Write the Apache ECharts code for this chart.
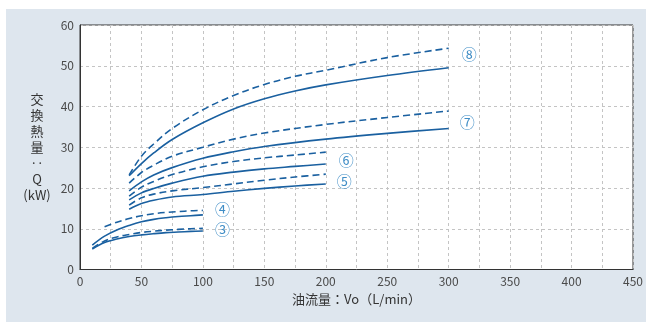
<!DOCTYPE html>
<html><head><meta charset="utf-8">
<script src="https://cdn.jsdelivr.net/npm/echarts@6/dist/echarts.min.js"></script>
<style>html,body{margin:0;padding:0;background:#fff}#c{width:646px;height:322px}</style>
</head><body><div id="c"></div>
<script>
// Oil flow (L/min) and heat exchange (kW)
const v3 = [10,20,30,40,50,60,70,80,90,100];
const q3Solid = [5.0,6.6,7.5,8.1,8.5,8.8,9.05,9.2,9.35,9.45];
const q3Dash  = [5.2,7.0,8.0,8.6,9.1,9.4,9.65,9.85,10.0,10.1];
const v4Solid = [10,20,30,40,50,60,70,80,90,100];
const q4Solid = [6.0,8.2,9.7,10.8,11.7,12.3,12.7,13.0,13.2,13.4];
const v4Dash  = [20,30,40,50,60,70,80,90,100];
const q4Dash  = [10.5,11.6,12.5,13.2,13.7,14.0,14.2,14.4,14.5];
const v56 = [40,50,60,75,100,125,150,175,200];
const q5Solid = [14.8,16.2,17.0,17.8,18.4,19.2,19.9,20.5,21.0];
const q5Dash  = [15.8,17.6,18.5,19.3,20.1,21.0,21.9,22.7,23.4];
const q6Solid = [17.1,18.8,19.9,21.2,22.9,23.9,24.7,25.3,25.9];
const q6Dash  = [18.0,20.2,21.6,23.3,25.2,26.5,27.4,28.1,28.8];
const v7 = [40,50,60,75,100,125,150,200,250,300];
const q7Solid = [19.3,21.5,23.2,25.0,27.3,28.9,30.2,32.0,33.4,34.6];
const q7Dash  = [21.2,23.8,25.6,27.8,30.0,32.0,33.5,35.6,37.3,38.9];
const v8 = [40,50,60,75,100,125,150,175,200,250,300];
const q8Solid = [23.0,26.0,28.6,31.9,36.0,39.4,41.9,43.8,45.3,47.6,49.5];
const q8Dash  = [23.2,27.8,30.8,34.6,39.2,42.7,45.4,47.4,48.9,52.0,54.3];
const xTicks = [0,50,100,150,200,250,300,350,400,450];
const yTicks = [0,10,20,30,40,50,60];
const curveLabels = ['③','④','⑤','⑥','⑦','⑧'];

const LINE = '#1a60a0';
const LABEL = '#3f8dc6';
const FONT = '"Noto Sans CJK JP", "Noto Sans", sans-serif';
const zip = (xs, ys) => xs.map((x, i) => [x, ys[i]]);

const curves = [
  {x: v3, s: q3Solid, xd: v3, d: q3Dash, off: [4, -2]},
  {x: v4Solid, s: q4Solid, xd: v4Dash, d: q4Dash, off: [4, -6]},
  {x: v56, s: q5Solid, xd: v56, d: q5Dash, off: [3, -3]},
  {x: v56, s: q6Solid, xd: v56, d: q6Dash, off: [5, -4]},
  {x: v7, s: q7Solid, xd: v7, d: q7Dash, off: [3, -6]},
  {x: v8, s: q8Solid, xd: v8, d: q8Dash, off: [5, -13]}
];
const series = [];
curves.forEach((c, i) => {
  series.push({
    type: 'line', data: zip(c.x, c.s), smooth: 0.35, showSymbol: false, symbol: 'none',
    lineStyle: {color: LINE, width: 1.6},
    endLabel: {show: true, formatter: curveLabels[i], offset: c.off, color: LABEL, fontSize: 15, fontFamily: FONT}
  });
  series.push({
    type: 'line', data: zip(c.xd, c.d), smooth: 0.35, showSymbol: false, symbol: 'none',
    lineStyle: {color: LINE, width: 1.6, type: [7, 4]}
  });
});

const chart = echarts.init(document.getElementById('c'), null, {renderer: 'canvas'});
chart.setOption({
  animation: false,
  backgroundColor: '#ffffff',
  graphic: [{type: 'rect', z: -10, silent: true, shape: {x: 6, y: 9, width: 640, height: 313}, style: {fill: '#dee6ee'}}],
  grid: {left: 80, right: 11, top: 25, bottom: 52.5, show: true, backgroundColor: '#ffffff', borderColor: '#333', borderWidth: 1, z: 0},
  xAxis: {
    type: 'value', min: xTicks[0], max: xTicks[xTicks.length - 1], interval: 50,
    name: '油流量：Vo（L/min）', nameLocation: 'middle', nameGap: 22,
    nameTextStyle: {color: '#333', fontSize: 13, fontFamily: FONT},
    axisLine: {lineStyle: {color: '#333'}}, axisTick: {show: false},
    axisLabel: {color: '#4a4a4a', fontSize: 12, fontFamily: FONT, margin: 6},
    splitLine: {show: true, lineStyle: {color: '#c4c4c4', type: [3, 3]}},
    minorTick: {show: false, splitNumber: 2},
    minorSplitLine: {show: true, lineStyle: {color: '#c4c4c4', type: [3, 3]}}
  },
  yAxis: {
    type: 'value', min: yTicks[0], max: yTicks[yTicks.length - 1], interval: 10,
    name: '交\n換\n熱\n量\n‥\nQ\n(kW)', nameLocation: 'middle', nameRotate: 0, nameGap: 43,
    nameTextStyle: {color: '#333', fontSize: 13, fontFamily: FONT, lineHeight: 16, align: 'center', padding: [8, 0, 0, 0]},
    axisLine: {show: true, lineStyle: {color: '#333'}}, axisTick: {show: false},
    axisLabel: {color: '#4a4a4a', fontSize: 12, fontFamily: FONT, margin: 6},
    splitLine: {show: true, lineStyle: {color: '#c4c4c4', type: [3, 3]}}
  },
  series: series
});
</script></body></html>
